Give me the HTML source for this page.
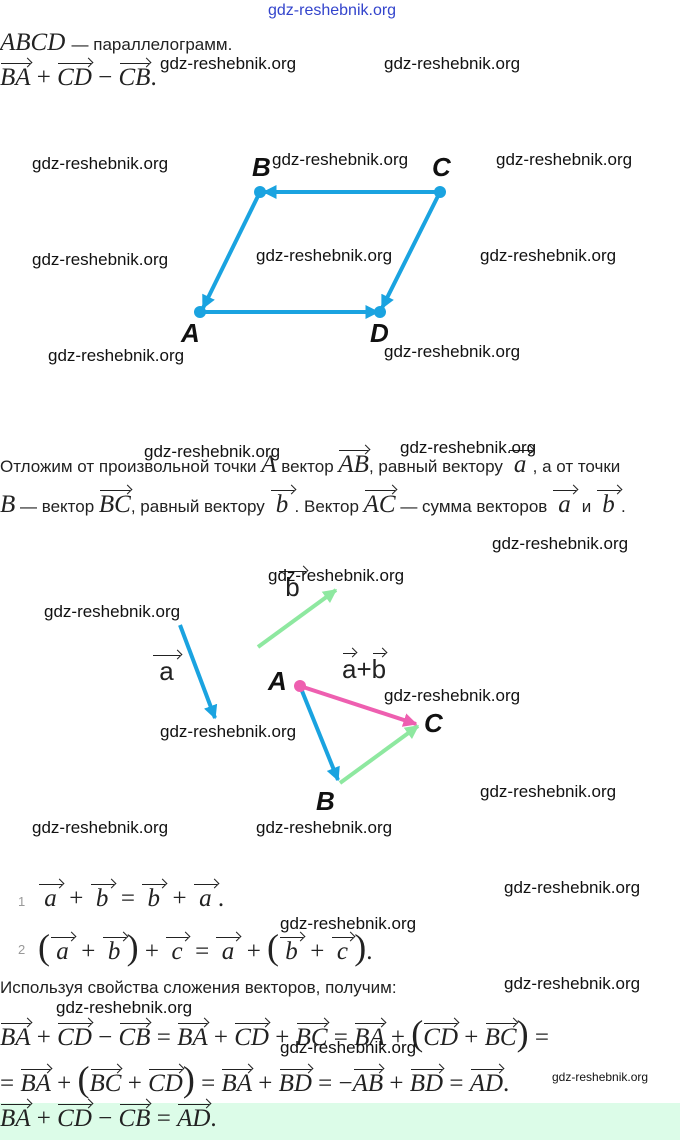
<!DOCTYPE html>
<html><head><meta charset="utf-8"><style>
body{margin:0;width:680px;height:1140px;background:#fff;position:relative;overflow:hidden;font-family:"Liberation Sans",sans-serif;color:#222}
.a{position:absolute;white-space:nowrap}
.w{position:absolute;font-size:17px;color:#111;white-space:nowrap;font-family:"Liberation Sans",sans-serif}
.m{font-family:"Liberation Serif",serif;font-size:25px}
.v{display:inline-block;position:relative;font-style:italic;padding-top:4px}
.v::before{content:"";position:absolute;left:1px;right:1px;top:3px;border-top:1.3px solid #222}
.v::after{content:"";position:absolute;right:0;top:-1px;width:6px;height:6px;border-top:1.3px solid #222;border-right:1.3px solid #222;transform:rotate(45deg);transform-origin:center}
.t{font-size:17px;font-family:"Liberation Sans",sans-serif}
i{font-family:"Liberation Serif",serif}
.lbl{position:absolute;font:italic bold 26px "Liberation Sans",sans-serif;color:#111}
</style></head><body>
<div class="a" style="left:268px;top:2px;font-size:16px;color:#3344cc">gdz-reshebnik.org</div>
<div class="a m" style="left:0;top:29px"><i>ABCD</i> <span class="t">— параллелограмм.</span></div>
<div class="a m" style="left:0;top:60px"><span class="v">BA</span> + <span class="v">CD</span> − <span class="v">CB</span>.</div>

<svg class="a" style="left:0;top:0" width="680" height="1140">
<defs>
<marker id="bb" viewBox="0 0 10 10" markerWidth="14" markerHeight="14" refX="9" refY="5" orient="auto" markerUnits="userSpaceOnUse"><path d="M0,0 L10,5 L0,10z" fill="#1aa3e0"/></marker>
<marker id="gg" viewBox="0 0 10 10" markerWidth="14" markerHeight="14" refX="9" refY="5" orient="auto" markerUnits="userSpaceOnUse"><path d="M0,0 L10,5 L0,10z" fill="#8ee8a0"/></marker>
<marker id="pp" viewBox="0 0 10 10" markerWidth="14" markerHeight="14" refX="9" refY="5" orient="auto" markerUnits="userSpaceOnUse"><path d="M0,0 L10,5 L0,10z" fill="#ee5fb0"/></marker>
</defs>
<g stroke="#1aa3e0" stroke-width="4" fill="none">
<line x1="440" y1="192" x2="264" y2="192" marker-end="url(#bb)"/>
<line x1="260" y1="192" x2="203" y2="308" marker-end="url(#bb)"/>
<line x1="200" y1="312" x2="378" y2="312" marker-end="url(#bb)"/>
<line x1="440" y1="192" x2="382" y2="308" marker-end="url(#bb)"/>
</g>
<g fill="#1aa3e0"><circle cx="260" cy="192" r="6"/><circle cx="440" cy="192" r="6"/><circle cx="200" cy="312" r="6"/><circle cx="380" cy="312" r="6"/></g>
<line x1="180" y1="625" x2="215" y2="718" stroke="#1aa3e0" stroke-width="4" marker-end="url(#bb)"/>
<line x1="258" y1="647" x2="336" y2="590" stroke="#8ee8a0" stroke-width="4" marker-end="url(#gg)"/>
<line x1="300" y1="686" x2="338" y2="780" stroke="#1aa3e0" stroke-width="4" marker-end="url(#bb)"/>
<line x1="340" y1="783" x2="418" y2="726" stroke="#8ee8a0" stroke-width="4" marker-end="url(#gg)"/>
<line x1="300" y1="686" x2="416" y2="724" stroke="#ee5fb0" stroke-width="4" marker-end="url(#pp)"/>
<circle cx="300" cy="686" r="6" fill="#ee5fb0"/>
</svg>
<div class="lbl" style="left:252px;top:152px">B</div>
<div class="lbl" style="left:432px;top:152px">C</div>
<div class="lbl" style="left:181px;top:318px">A</div>
<div class="lbl" style="left:370px;top:318px">D</div>
<div class="lbl" style="left:268px;top:666px">A</div>
<div class="lbl" style="left:424px;top:708px">C</div>
<div class="lbl" style="left:316px;top:786px">B</div>
<div class="a" style="left:152px;top:652px;font-size:26px"><span class="v" style="font-style:normal">&nbsp;a&nbsp;</span></div>
<div class="a" style="left:278px;top:568px;font-size:26px"><span class="v" style="font-style:normal">&nbsp;b&nbsp;</span></div>
<div class="a" style="left:342px;top:650px;font-size:26px"><span class="v" style="font-style:normal">a</span>+<span class="v" style="font-style:normal">b</span></div>

<div class="a m" style="left:0;top:447px"><span class="t">Отложим от произвольной точки </span><i>A</i><span class="t"> вектор </span><span class="v">AB</span><span class="t">, равный вектору </span><span class="v">&nbsp;a&nbsp;</span><span class="t">, а от точки</span></div>
<div class="a m" style="left:0;top:487px"><i>B</i><span class="t"> — вектор </span><span class="v">BC</span><span class="t">, равный вектору </span><span class="v">&nbsp;b&nbsp;</span><span class="t">. Вектор </span><span class="v">AC</span><span class="t"> — сумма векторов </span><span class="v">&nbsp;a&nbsp;</span><span class="t"> и </span><span class="v">&nbsp;b&nbsp;</span><span class="t">.</span></div>

<div class="a" style="left:18px;top:894px;font-size:13px;color:#999">1</div>
<div class="a m" style="left:38px;top:881px"><span class="v">&nbsp;a&nbsp;</span> + <span class="v">&nbsp;b&nbsp;</span> = <span class="v">&nbsp;b&nbsp;</span> + <span class="v">&nbsp;a&nbsp;</span>.</div>
<div class="a" style="left:18px;top:942px;font-size:13px;color:#999">2</div>
<div class="a m" style="left:38px;top:926px"><span style="font-size:36px">(</span><span class="v">&nbsp;a&nbsp;</span> + <span class="v">&nbsp;b&nbsp;</span><span style="font-size:36px">)</span> + <span class="v">&nbsp;c&nbsp;</span> = <span class="v">&nbsp;a&nbsp;</span> + <span style="font-size:36px">(</span><span class="v">&nbsp;b&nbsp;</span> + <span class="v">&nbsp;c&nbsp;</span><span style="font-size:36px">)</span>.</div>

<div class="a t" style="left:0;top:978px">Используя свойства сложения векторов, получим:</div>
<div class="a m" style="left:0;top:1012px"><span class="v">BA</span> + <span class="v">CD</span> − <span class="v">CB</span> = <span class="v">BA</span> + <span class="v">CD</span> + <span class="v">BC</span> = <span class="v">BA</span> + <span style="font-size:36px">(</span><span class="v">CD</span> + <span class="v">BC</span><span style="font-size:36px">)</span> =</div>
<div class="a m" style="left:0;top:1058px">= <span class="v">BA</span> + <span style="font-size:36px">(</span><span class="v">BC</span> + <span class="v">CD</span><span style="font-size:36px">)</span> = <span class="v">BA</span> + <span class="v">BD</span> = −<span class="v">AB</span> + <span class="v">BD</span> = <span class="v">AD</span>.</div>
<div class="a" style="left:0;top:1103px;width:680px;height:37px;background:#dcfce8"></div>
<div class="a m" style="left:0;top:1101px"><span class="v">BA</span> + <span class="v">CD</span> − <span class="v">CB</span> = <span class="v">AD</span>.</div>

<div class="w" style="left:160px;top:54px">gdz-reshebnik.org</div>
<div class="w" style="left:384px;top:54px">gdz-reshebnik.org</div>
<div class="w" style="left:32px;top:154px">gdz-reshebnik.org</div>
<div class="w" style="left:272px;top:150px">gdz-reshebnik.org</div>
<div class="w" style="left:496px;top:150px">gdz-reshebnik.org</div>
<div class="w" style="left:32px;top:250px">gdz-reshebnik.org</div>
<div class="w" style="left:256px;top:246px">gdz-reshebnik.org</div>
<div class="w" style="left:480px;top:246px">gdz-reshebnik.org</div>
<div class="w" style="left:48px;top:346px">gdz-reshebnik.org</div>
<div class="w" style="left:384px;top:342px">gdz-reshebnik.org</div>
<div class="w" style="left:144px;top:442px">gdz-reshebnik.org</div>
<div class="w" style="left:400px;top:438px">gdz-reshebnik.org</div>
<div class="w" style="left:492px;top:534px">gdz-reshebnik.org</div>
<div class="w" style="left:268px;top:566px">gdz-reshebnik.org</div>
<div class="w" style="left:44px;top:602px">gdz-reshebnik.org</div>
<div class="w" style="left:384px;top:686px">gdz-reshebnik.org</div>
<div class="w" style="left:160px;top:722px">gdz-reshebnik.org</div>
<div class="w" style="left:480px;top:782px">gdz-reshebnik.org</div>
<div class="w" style="left:32px;top:818px">gdz-reshebnik.org</div>
<div class="w" style="left:256px;top:818px">gdz-reshebnik.org</div>
<div class="w" style="left:504px;top:878px">gdz-reshebnik.org</div>
<div class="w" style="left:280px;top:914px">gdz-reshebnik.org</div>
<div class="w" style="left:504px;top:974px">gdz-reshebnik.org</div>
<div class="w" style="left:56px;top:998px">gdz-reshebnik.org</div>
<div class="w" style="left:280px;top:1038px">gdz-reshebnik.org</div>
<div class="w" style="left:552px;top:1070px;font-size:12px">gdz-reshebnik.org</div>
</body></html>
